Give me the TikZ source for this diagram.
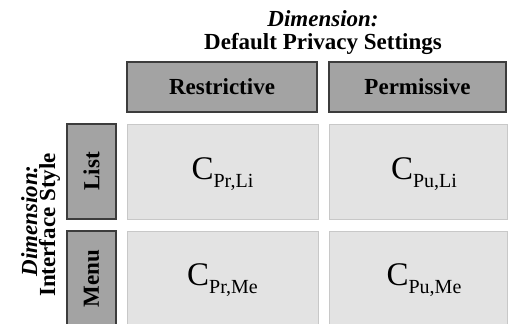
\documentclass[tikz,border=0pt]{standalone}
\usepackage{fontspec}
\setmainfont{Liberation Serif}
\usetikzlibrary{positioning}

\definecolor{hdrfill}{HTML}{A3A3A3}
\definecolor{hdrline}{HTML}{3C3C3C}
\definecolor{cellfill}{HTML}{E3E3E3}
\definecolor{cellline}{HTML}{C8C8C8}

\newcommand{\bigc}[1]{{\fontsize{33}{33}\selectfont C}{\fontsize{20}{20}\selectfont\raisebox{-8pt}{#1}}}

\begin{document}
\begin{tikzpicture}[x=1pt,y=-1pt]

\tikzset{hdr/.style = {draw=hdrline,fill=hdrfill,line width=1.2pt,inner sep=0pt,font=\fontsize{23}{23}\selectfont\bfseries}}
\tikzset{cell/.style = {draw=cellline,fill=cellfill,line width=1pt,inner sep=0pt}}
\tikzset{dim/.style = {inner sep=0pt,anchor=base,font=\fontsize{23}{23}\selectfont\bfseries}}
\tikzset{ctext/.style = {inner sep=0pt,anchor=base}}

\useasboundingbox (0,0) rectangle (509,324);
\clip (0,0) rectangle (509,324);

%titles
\node[dim] (t1) at (323,27) {\itshape Dimension:};
\node[dim] (t2) at (323,49) {Default Privacy Settings};
\node[dim, rotate=90] (s1) at (37,221) {\itshape Dimension:};
\node[dim, rotate=90] (s2) at (55,225) {Interface Style};
%headers
\node[hdr, minimum width=190, minimum height=50] (restr) at (222,87) {Restrictive};
\node[hdr, minimum width=177, minimum height=50] (perm) at (417.5,87) {Permissive};
\node[hdr, rotate=90, minimum width=95, minimum height=49] (list) at (91.5,171.5) {List};
\node[hdr, rotate=90, minimum width=95, minimum height=49] (menu) at (91.5,278.5) {Menu};
%cells
\node[cell, minimum width=191, minimum height=95] (prli) at (222.5,171.5) {};
\node[cell, minimum width=178, minimum height=95] (puli) at (418,171.5) {};
\node[cell, minimum width=191, minimum height=95] (prme) at (222.5,278.5) {};
\node[cell, minimum width=178, minimum height=95] (pume) at (418,278.5) {};
%cell texts
\node[ctext] (cprli) at (222.5,179) {\bigc{Pr,Li}};
\node[ctext] (cpuli) at (424,179) {\bigc{Pu,Li}};
\node[ctext] (cprme) at (222.5,285) {\bigc{Pr,Me}};
\node[ctext] (cpume) at (424,285) {\bigc{Pu,Me}};

\end{tikzpicture}
\end{document}
